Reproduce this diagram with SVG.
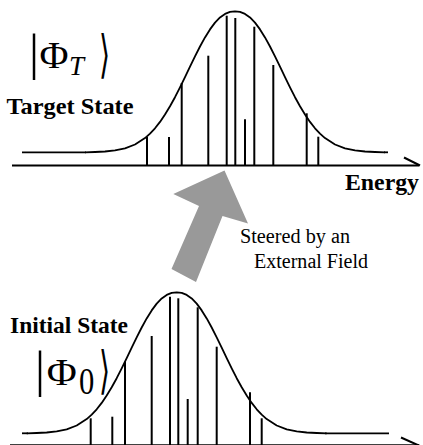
<svg xmlns="http://www.w3.org/2000/svg" width="423" height="445" viewBox="0 0 423 445">
<style>
.ax{stroke:#000;stroke-width:2;fill:none}
.crv{stroke:#000;stroke-width:1.8;fill:none;stroke-linejoin:round}
.ln{stroke:#000;stroke-width:2}
.lbl{font-family:'Liberation Serif',serif;font-weight:bold;font-size:24px;fill:#000}
.cap{font-family:'Liberation Serif',serif;font-size:20px;fill:#000}
.m{font-family:'Liberation Serif',serif;fill:#000}
.br{font-family:'DejaVu Sans',sans-serif;font-size:38px;fill:#000}
</style>
<defs>
<path id="bell" d="M-150,0 L-140,-0.3 L-130,-0.8 L-120,-1.9 L-110,-4 L-100,-7.8 L-90,-14.2 L-85,-18.7 L-80,-24 L-75,-30.4 L-70,-37.8 L-65,-46 L-60,-55.1 L-55,-64.9 L-50,-75.2 L-45,-85.6 L-40,-95.9 L-35,-105.8 L-30,-114.9 L-25,-122.9 L-20,-129.7 L-15,-134.9 L-10,-138.4 L-5,-140.4 L0,-141 L5,-140.4 L10,-138.4 L15,-134.9 L20,-129.7 L25,-122.9 L30,-114.9 L35,-105.8 L40,-95.9 L45,-85.6 L50,-75.2 L55,-64.9 L60,-55.1 L65,-46 L70,-37.8 L75,-30.4 L80,-24 L85,-18.7 L90,-14.2 L100,-7.8 L110,-4 L120,-1.9 L130,-0.8 L140,-0.3 L150,0"/>
</defs>

<g id="target-state">
  <line class="crv" x1="22" y1="152.3" x2="86" y2="152.3"/>
  <line class="crv" x1="384" y1="152.3" x2="388" y2="152.3"/>
  <use href="#bell" class="crv" transform="translate(235,152.3)"/>
  <g class="ln">
    <line x1="147" y1="137" x2="147" y2="165"/>
    <line x1="169" y1="137" x2="169" y2="165"/>
    <line x1="181.7" y1="83" x2="181.7" y2="165"/>
    <line x1="208.3" y1="55.7" x2="208.3" y2="165"/>
    <line x1="226.7" y1="15.7" x2="226.7" y2="165"/>
    <line x1="235.3" y1="18" x2="235.3" y2="165"/>
    <line x1="245" y1="119.3" x2="245" y2="165"/>
    <line x1="254.3" y1="26.7" x2="254.3" y2="165"/>
    <line x1="273.3" y1="65" x2="273.3" y2="165"/>
    <line x1="306.7" y1="113.3" x2="306.7" y2="165"/>
    <line x1="318.3" y1="136.7" x2="318.3" y2="165"/>
  </g>
  <text class="m"><tspan x="29" y="69" font-size="50">|</tspan><tspan x="39.5" y="68.3" font-size="38" textLength="29" lengthAdjust="spacingAndGlyphs">Φ</tspan><tspan x="69" y="75" font-size="27" font-style="italic">T</tspan></text>
  <text class="br" transform="translate(99,72) scale(0.75,1.35)">⟩</text>
  <text class="lbl" x="6.5" y="114" textLength="127" lengthAdjust="spacingAndGlyphs">Target State</text>
</g>

<g id="initial-state">
  <line class="crv" x1="22" y1="433.3" x2="28" y2="433.3"/>
  <line class="crv" x1="325" y1="433.3" x2="389" y2="433.3"/>
  <use href="#bell" class="crv" transform="translate(176.7,433.3)"/>
  <g class="ln">
    <line x1="90.7" y1="418.3" x2="90.7" y2="445"/>
    <line x1="112.3" y1="416.7" x2="112.3" y2="445"/>
    <line x1="125" y1="361.7" x2="125" y2="445"/>
    <line x1="151.7" y1="336" x2="151.7" y2="445"/>
    <line x1="170" y1="296.7" x2="170" y2="445"/>
    <line x1="178.3" y1="298.3" x2="178.3" y2="445"/>
    <line x1="187.7" y1="399" x2="187.7" y2="445"/>
    <line x1="197.7" y1="307.3" x2="197.7" y2="445"/>
    <line x1="216.7" y1="346.7" x2="216.7" y2="445"/>
    <line x1="250" y1="392.3" x2="250" y2="445"/>
    <line x1="261.7" y1="418.3" x2="261.7" y2="445"/>
  </g>
  <text class="lbl" x="10" y="333" textLength="118" lengthAdjust="spacingAndGlyphs">Initial State</text>
  <text class="m"><tspan x="35" y="386" font-size="50">|</tspan><tspan x="46.7" y="385" font-size="38" textLength="30" lengthAdjust="spacingAndGlyphs">Φ</tspan><tspan x="79" y="394.3" font-size="38" textLength="15.3" lengthAdjust="spacingAndGlyphs">0</tspan></text>
  <text class="br" transform="translate(99,388) scale(0.75,1.35)">⟩</text>
</g>

<g id="connectors">
  <line class="ax" x1="12" y1="165.5" x2="419" y2="165.5"/>
  <line class="ax" x1="404" y1="157.5" x2="420" y2="165.5"/>
  <line class="ax" x1="10" y1="445.3" x2="419" y2="445.3"/>
  <line class="ax" x1="401" y1="437.5" x2="420" y2="446"/>
  <polygon id="steer-arrow" fill="#999999" points="224.5,170.5 248,223.5 222.5,216 196,282 171.5,269 199,206 173.3,194"/>
</g>

<g id="energy-label">
  <text class="lbl" x="345" y="190" textLength="74" lengthAdjust="spacingAndGlyphs">Energy</text>
</g>
<g id="steer-label">
  <text class="cap" x="240" y="243" textLength="110" lengthAdjust="spacingAndGlyphs">Steered by an</text>
  <text class="cap" x="254" y="268" textLength="114" lengthAdjust="spacingAndGlyphs">External Field</text>
</g>
</svg>
